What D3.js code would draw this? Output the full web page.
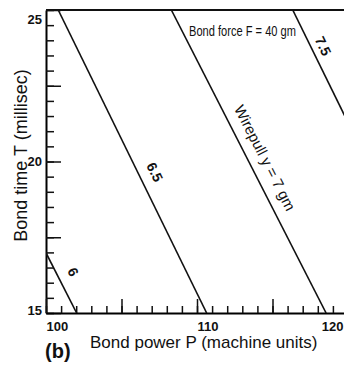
<!DOCTYPE html>
<html>
<head>
<meta charset="utf-8">
<script src="https://cdn.jsdelivr.net/npm/d3@7"></script>
<style>
  body { margin: 0; background: #fff; }
</style>
</head>
<body>
<div id="chart"></div>
<script>
// wirepull contours, read where each one meets T = 25 and T = 15
const wirepull = [6, 6.5, 7, 7.5];
const powerAtT25 = [91.8, 100.81, 108.3, 116.34];
const powerAtT15 = [102.03, 110.64, 118.55, 126.2];

// contour labels (P, T of label centre)
const labelText = ["6", "6.5", "Wirepull y = 7 gm", "7.5"];
const labelP = [101.8, 107.2, 114.5, 118.35];
const labelT = [16.35, 19.65, 20.12, 23.81];

const xTickLabels = [100, 110, 120];
const yTickLabels = [15, 20, 25];
const forceNote = "Bond force F = 40 gm";

const width = 344, height = 371;
const narrow = "'Liberation Sans Narrow', 'Arial Narrow', sans-serif";
const sans = "'Liberation Sans', Arial, Helvetica, sans-serif";

const x = d3.scaleLinear().domain([100, 122]).range([46, 378.2]);
const y = d3.scaleLinear().domain([15, 25]).range([313, 10]);

const svg = d3.select("#chart").append("svg")
  .attr("width", width)
  .attr("height", height)
  .style("display", "block");

svg.append("clipPath").attr("id", "plot")
  .append("rect")
  .attr("x", x(100)).attr("y", y(25))
  .attr("width", x(122) - x(100)).attr("height", y(15) - y(25));

// top frame line
svg.append("line")
  .attr("x1", x(100)).attr("x2", x(122))
  .attr("y1", y(25)).attr("y2", y(25))
  .attr("stroke", "#111").attr("stroke-width", 2);

// y axis, minor and major ticks point inward
const yMinor = svg.append("g")
  .attr("transform", `translate(${x(100)},0)`)
  .call(d3.axisLeft(y).tickValues(d3.range(15, 25.01, 0.5)).tickSize(-8).tickSizeOuter(0).tickFormat(""));
yMinor.select(".domain").attr("stroke-width", 2);

const yMajor = svg.append("g")
  .attr("transform", `translate(${x(100)},0)`)
  .call(d3.axisLeft(y).tickValues([15, 17.5, 20, 22.5, 25]).tickSize(-15)
    .tickFormat(d => yTickLabels.includes(d) ? d : ""));
yMajor.select(".domain").remove();
yMajor.selectAll("text")
  .attr("x", -4)
  .attr("y", d => Math.max(19, Math.min(310, y(d))) - y(d))
  .style("font-family", narrow)
  .style("font-weight", "bold")
  .style("font-size", "13px")
  .attr("fill", "#111");

// x axis
const xMinor = svg.append("g")
  .attr("transform", `translate(0,${y(15)})`)
  .call(d3.axisBottom(x).tickValues(d3.range(100, 122.5, 1)).tickSize(-7).tickSizeOuter(0).tickFormat(""));
xMinor.select(".domain").attr("stroke-width", 2);

const xMajor = svg.append("g")
  .attr("transform", `translate(0,${y(15)})`)
  .call(d3.axisBottom(x).tickValues([100, 105, 110, 115, 120]).tickSize(-14)
    .tickFormat(d => xTickLabels.includes(d) ? d : ""));
xMajor.select(".domain").remove();
xMajor.selectAll("text")
  .attr("text-anchor", "start")
  .attr("y", 9)
  .style("font-family", narrow)
  .style("font-weight", "bold")
  .style("font-size", "13px")
  .attr("fill", "#111")
  .attr("x", function(d) {
    // keep the last label inside the picture
    const w = this.getComputedTextLength();
    return Math.min(0, width - 1 - w - x(d));
  });

svg.selectAll(".tick line").attr("stroke", "#111").attr("stroke-width", 1.5);

// contour lines
svg.append("g").attr("clip-path", "url(#plot)")
  .selectAll("line")
  .data(wirepull)
  .join("line")
  .attr("x1", (d, i) => x(powerAtT25[i]))
  .attr("y1", y(25))
  .attr("x2", (d, i) => x(powerAtT15[i]))
  .attr("y2", y(15))
  .attr("stroke", "#111")
  .attr("stroke-width", 1.6);

// contour labels, rotated along their line
svg.selectAll(".clabel")
  .data(wirepull)
  .join("text")
  .attr("class", "clabel")
  .attr("transform", (d, i) => {
    const ang = Math.atan2(y(15) - y(25), x(powerAtT15[i]) - x(powerAtT25[i])) * 180 / Math.PI;
    return `translate(${x(labelP[i])},${y(labelT[i])}) rotate(${ang})`;
  })
  .attr("text-anchor", "middle")
  .attr("dy", "0.35em")
  .style("font-family", narrow)
  .style("font-size", (d, i) => i === 2 ? "15px" : "14px")
  .style("font-weight", (d, i) => i === 2 ? "normal" : "bold")
  .attr("fill", "#111")
  .text((d, i) => labelText[i]);

// condensed note, squeezed to the width it has in the figure
svg.append("text")
  .attr("x", 189).attr("y", y(24.14))
  .attr("textLength", 107)
  .attr("lengthAdjust", "spacingAndGlyphs")
  .style("font-family", narrow)
  .style("font-size", "14px")
  .attr("fill", "#111")
  .text(forceNote);

// axis titles
svg.append("text")
  .attr("transform", `translate(27,${(y(15) + y(25)) / 2 - 6}) rotate(-90)`)
  .attr("text-anchor", "middle")
  .style("font-family", sans)
  .style("font-size", "18px")
  .attr("fill", "#111")
  .text("Bond time T (millisec)");

svg.append("text")
  .attr("x", 90).attr("y", 348)
  .style("font-family", sans)
  .style("font-size", "17px")
  .attr("fill", "#111")
  .text("Bond power P (machine units)");

svg.append("text")
  .attr("x", 45).attr("y", 358)
  .style("font-family", sans)
  .style("font-size", "20px")
  .style("font-weight", "bold")
  .attr("fill", "#111")
  .text("(b)");
</script>
</body>
</html>
